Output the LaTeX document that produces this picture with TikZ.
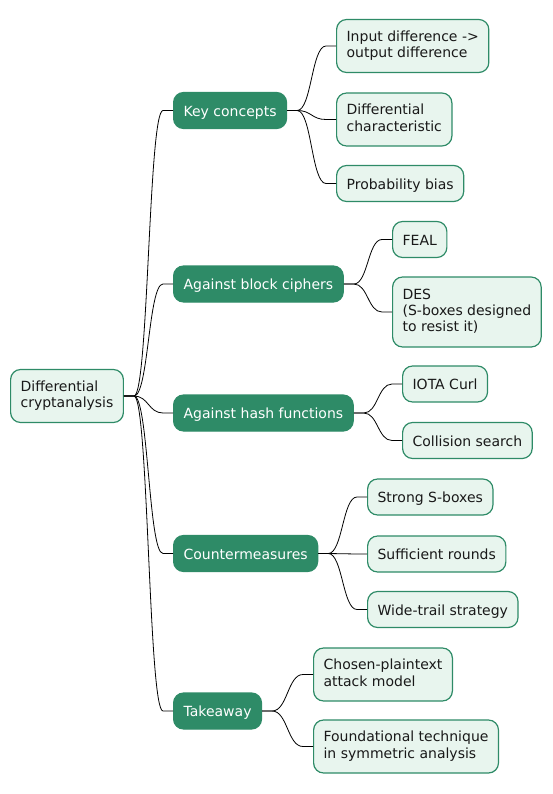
\documentclass[tikz,border=0pt]{standalone}
\usepackage{fontspec}
\setmainfont{DejaVu Sans}
\usetikzlibrary{calc}
\definecolor{mmdark}{RGB}{46,139,103}
\definecolor{mmlight}{RGB}{232,245,238}
\tikzset{
  mmbase/.style={rounded corners=10pt, align=left, inner xsep=10pt, inner ysep=2pt,
    font=\fontsize{14}{16.3}\selectfont, anchor=west, line width=1.2pt,
    execute at begin node={\rule{0pt}{14.8pt}},
    execute at end node={\rule[-3.5pt]{0pt}{3.5pt}}},
  mmtop/.style={mmbase, fill=mmdark, draw=mmdark, text=white, minimum height=36pt},
  mmleaf/.style={mmbase, fill=mmlight, draw=mmdark, text=black!90},
  hone/.style={minimum height=36pt},
  htwo/.style={minimum height=53pt},
  hthree/.style={minimum height=70pt},
  link/.style={draw=black, line width=0.8pt}
}
\newcommand{\mmedge}[2]{%
  \path (#1.east) ++(10,0) coordinate (mmA);
  \path (#2.west) ++(-10,0) coordinate (mmB);
  \coordinate (mmM) at ($(mmA)!0.5!(mmB)$);
  \draw[link] (#1.east) -- (mmA) .. controls (mmM |- mmA) and (mmM |- mmB) .. (mmB) -- (#2.west);
}
\begin{document}
\begin{tikzpicture}[x=1pt,y=-1pt]
\useasboundingbox (0,0) rectangle (552,794);
\node[mmleaf, htwo] (root) at (10,396) {Differential\\cryptanalysis};
\node[mmtop] (kc) at (173,110.5) {Key concepts};
\node[mmtop] (abc) at (173,284) {Against block ciphers};
\node[mmtop] (ahf) at (173,413) {Against hash functions};
\node[mmtop] (cm) at (173,553.5) {Countermeasures};
\node[mmtop] (tk) at (173,711) {Takeaway};
\node[mmleaf, htwo] (l1) at (336,46) {Input difference ->\\output difference};
\node[mmleaf, htwo] (l2) at (336,119.5) {Differential\\characteristic};
\node[mmleaf, hone] (l3) at (336,183.5) {Probability bias};
\node[mmleaf, hone] (l4) at (392,239.5) {FEAL};
\node[mmleaf, hthree] (l5) at (392,312) {DES\\(S-boxes designed\\to resist it)};
\node[mmleaf, hone] (l6) at (402,384) {IOTA Curl};
\node[mmleaf, hone] (l7) at (402,440.5) {Collision search};
\node[mmleaf, hone] (l8) at (367,497) {Strong S-boxes};
\node[mmleaf, hone] (l9) at (367,554) {Sufficient rounds};
\node[mmleaf, hone] (l10) at (367,609.5) {Wide-trail strategy};
\node[mmleaf, htwo] (l11) at (313,674.5) {Chosen-plaintext\\attack model};
\node[mmleaf, htwo] (l12) at (313,746.5) {Foundational technique\\in symmetric analysis};
\mmedge{root}{kc}
\mmedge{root}{abc}
\mmedge{root}{ahf}
\mmedge{root}{cm}
\mmedge{root}{tk}
\mmedge{kc}{l1}
\mmedge{kc}{l2}
\mmedge{kc}{l3}
\mmedge{abc}{l4}
\mmedge{abc}{l5}
\mmedge{ahf}{l6}
\mmedge{ahf}{l7}
\mmedge{cm}{l8}
\mmedge{cm}{l9}
\mmedge{cm}{l10}
\mmedge{tk}{l11}
\mmedge{tk}{l12}
\end{tikzpicture}
\end{document}
